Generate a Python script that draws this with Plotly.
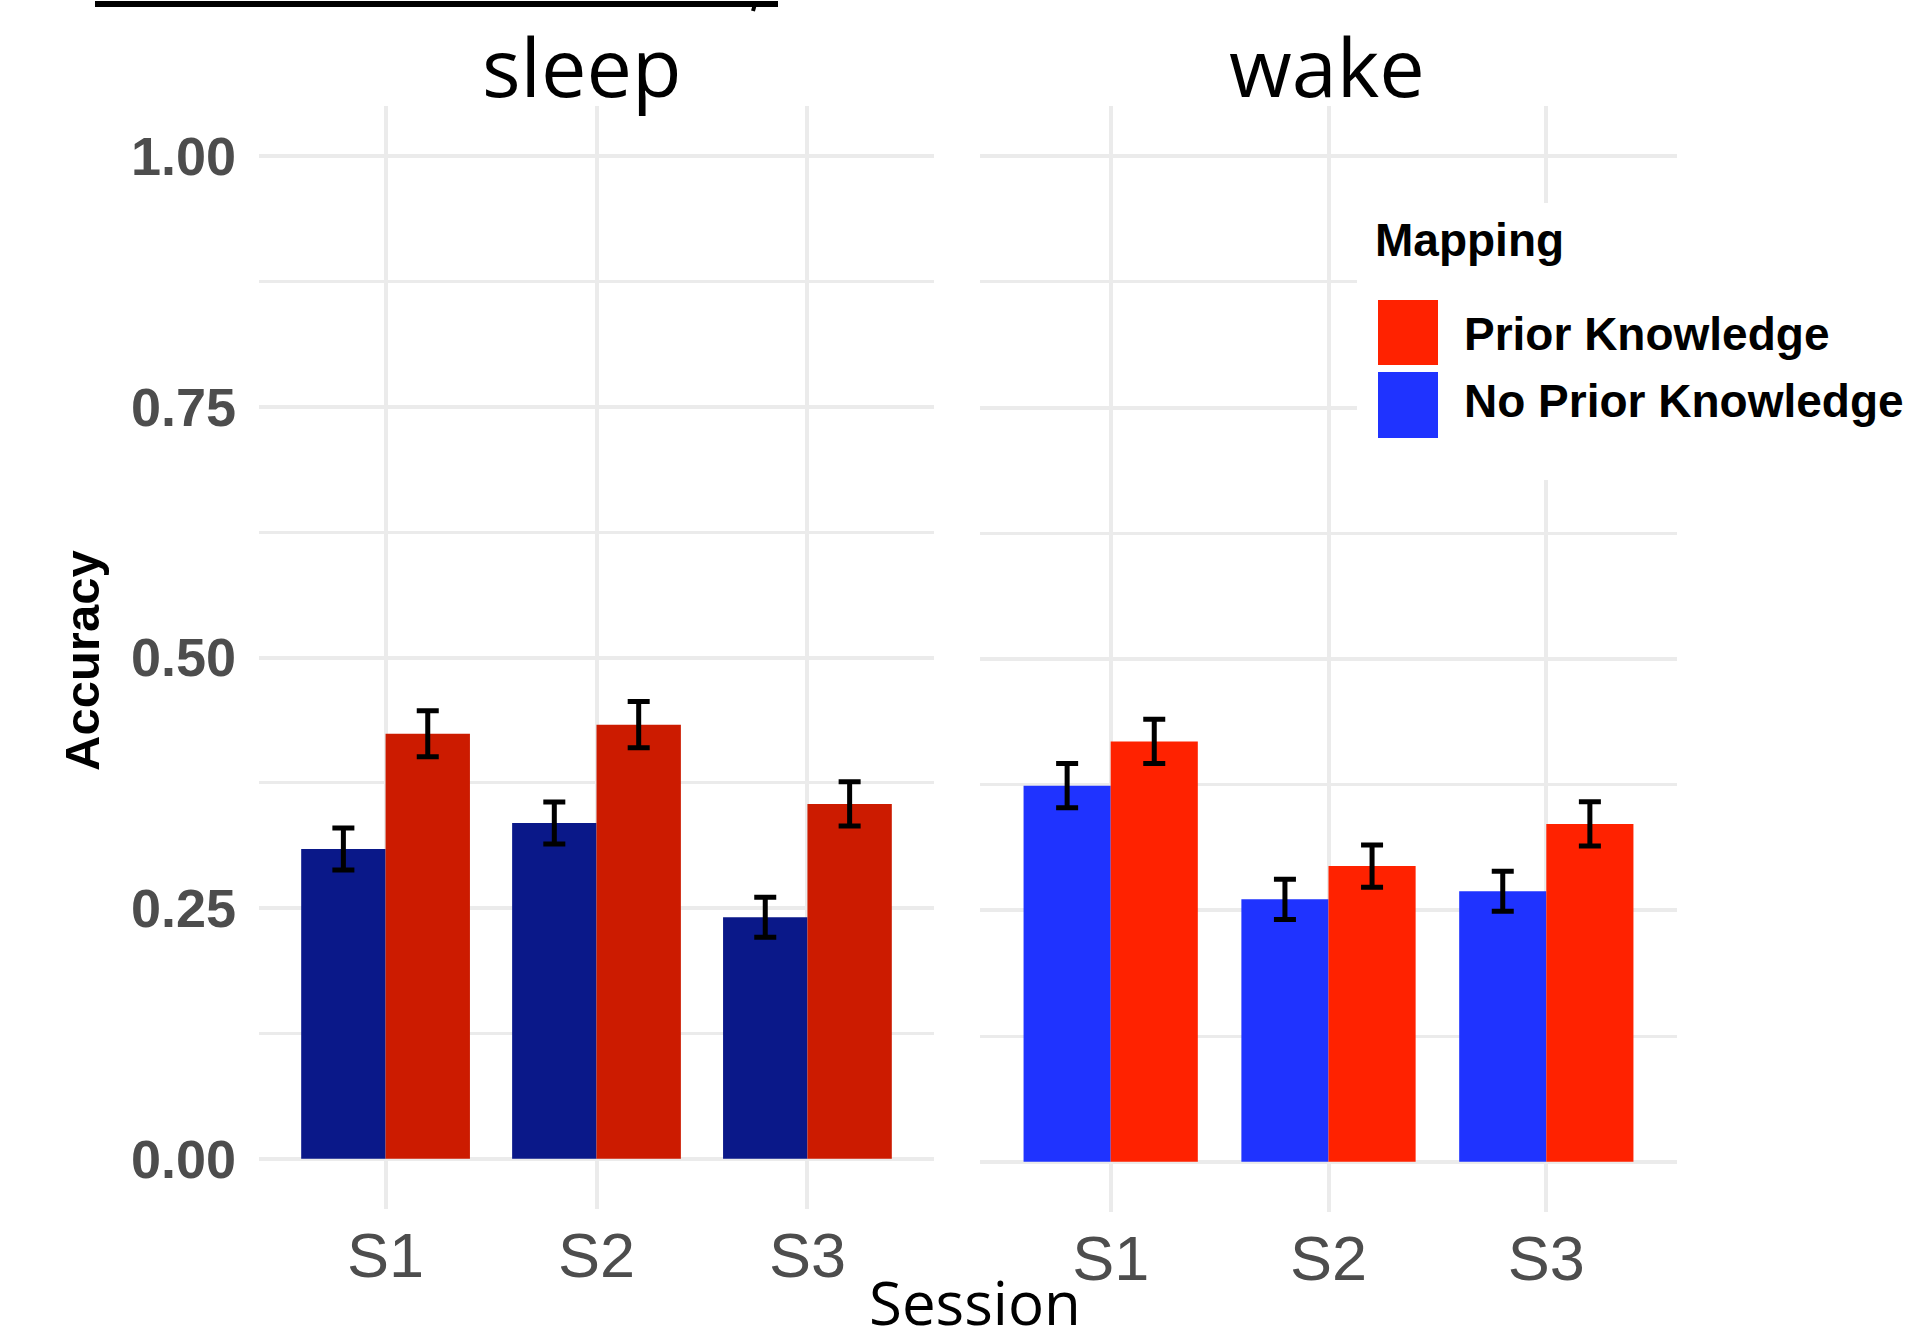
import plotly.graph_objects as go

# ---- data ----
sessions = ["S1", "S2", "S3"]
sleep_noprior = [0.309, 0.335, 0.241]
sleep_noprior_se = [0.021, 0.021, 0.020]
sleep_prior = [0.424, 0.433, 0.354]
sleep_prior_se = [0.023, 0.023, 0.022]
wake_noprior = [0.374, 0.261, 0.269]
wake_noprior_se = [0.022, 0.020, 0.020]
wake_prior = [0.418, 0.294, 0.336]
wake_prior_se = [0.022, 0.021, 0.022]
y_ticks = [0, 0.25, 0.5, 0.75, 1.0]
y_ticklabels = ["0.00", "0.25", "0.50", "0.75", "1.00"]
legend_title = "Mapping"
legend_labels = ["Prior Knowledge", "No Prior Knowledge"]

W, H = 1908, 1334
OFF = 0  # body margin removed via post_script
def px(x):
    return (x - OFF) / W
def py(y):
    return 1 - (y - OFF) / H

SLEEP_BLUE = "#0A1889"
SLEEP_RED = "#CC1B00"
WAKE_BLUE = "#1F33FF"
WAKE_RED = "#FF2200"

err = dict(type="data", visible=True, color="black", thickness=5, width=11)

fig = go.Figure()
fig.add_trace(go.Bar(x=sessions, y=sleep_noprior, marker_color=SLEEP_BLUE, marker_line_width=0,
                     error_y=dict(array=sleep_noprior_se, **err), xaxis="x", yaxis="y",
                     showlegend=False, name=legend_labels[1]))
fig.add_trace(go.Bar(x=sessions, y=sleep_prior, marker_color=SLEEP_RED, marker_line_width=0,
                     error_y=dict(array=sleep_prior_se, **err), xaxis="x", yaxis="y",
                     showlegend=False, name=legend_labels[0]))
fig.add_trace(go.Bar(x=sessions, y=wake_noprior, marker_color=WAKE_BLUE, marker_line_width=0,
                     error_y=dict(array=wake_noprior_se, **err), xaxis="x2", yaxis="y2",
                     showlegend=False, name=legend_labels[1]))
fig.add_trace(go.Bar(x=sessions, y=wake_prior, marker_color=WAKE_RED, marker_line_width=0,
                     error_y=dict(array=wake_prior_se, **err), xaxis="x2", yaxis="y2",
                     showlegend=False, name=legend_labels[0]))

grid = "#EBEBEB"
xcommon = dict(type="category", range=[-0.6, 2.6], showgrid=True, gridcolor=grid, gridwidth=4,
               zeroline=False, showline=False, ticks="",
               tickfont=dict(family="Liberation Sans, Arial, sans-serif", size=63, color="#4D4D4D"),
               ticklabelstandoff=4, fixedrange=True)
ycommon = dict(range=[-0.05, 1.05], tickvals=y_ticks, ticktext=y_ticklabels, showgrid=True,
               gridcolor=grid, gridwidth=4, zeroline=False, showline=False, ticks="",
               minor=dict(dtick=0.125, tick0=0, showgrid=True, gridcolor=grid, gridwidth=3),
               tickfont=dict(family="Liberation Sans, Arial, sans-serif", size=54, color="#4D4D4D",
                             weight="bold"),
               ticklabelstandoff=22, fixedrange=True)

fig.update_layout(
    width=W, height=H,
    margin=dict(l=0, r=0, t=0, b=0),
    paper_bgcolor="white", plot_bgcolor="white",
    barmode="group", bargap=0.2, bargroupgap=0,
    showlegend=False,
    xaxis=dict(domain=[px(259), px(934)], anchor="y", **xcommon),
    yaxis=dict(domain=[py(1209), py(106)], anchor="x", showticklabels=True, **ycommon),
    xaxis2=dict(domain=[px(980), px(1677)], anchor="y2", **xcommon),
    yaxis2=dict(domain=[py(1212), py(106)], anchor="x2", showticklabels=False, **ycommon),
)

shapes = []
# top decorative line (underline of cropped text above)
shapes.append(dict(type="line", xref="paper", yref="paper", x0=px(95), x1=px(778),
                   y0=py(4), y1=py(4), line=dict(color="black", width=6)))
shapes.append(dict(type="line", xref="paper", yref="paper", x0=px(755), x1=px(753),
                   y0=py(4), y1=py(11), line=dict(color="black", width=4)))
# legend background
shapes.append(dict(type="rect", xref="paper", yref="paper", x0=px(1357), x1=1,
                   y0=py(480), y1=py(203), fillcolor="white", line=dict(width=0), layer="above"))
# legend keys
shapes.append(dict(type="rect", xref="paper", yref="paper", x0=px(1378), x1=px(1438),
                   y0=py(365), y1=py(300), fillcolor=WAKE_RED, line=dict(width=0), layer="above"))
shapes.append(dict(type="rect", xref="paper", yref="paper", x0=px(1378), x1=px(1438),
                   y0=py(438), y1=py(372), fillcolor=WAKE_BLUE, line=dict(width=0), layer="above"))
fig.update_layout(shapes=shapes)

bold = dict(family="Liberation Sans, Arial, sans-serif", size=46, color="black", weight="bold")
ann = []
ann.append(dict(text=legend_title, x=px(1373), y=py(240), xref="paper", yref="paper",
                xanchor="left", yanchor="middle", showarrow=False, font=bold))
ann.append(dict(text=legend_labels[0], x=px(1462), y=py(334), xref="paper", yref="paper",
                xanchor="left", yanchor="middle", showarrow=False, font=bold))
ann.append(dict(text=legend_labels[1], x=px(1462), y=py(401), xref="paper", yref="paper",
                xanchor="left", yanchor="middle", showarrow=False, font=bold))
# facet labels
facet_font = dict(family="Open Sans, sans-serif", size=81, color="black")
ann.append(dict(text="sleep", x=px(582), y=py(65), xref="paper", yref="paper",
                xanchor="center", yanchor="middle", showarrow=False, font=facet_font))
ann.append(dict(text="wake", x=px(1327), y=py(65), xref="paper", yref="paper",
                xanchor="center", yanchor="middle", showarrow=False, font=facet_font))
# axis titles
ann.append(dict(text="Session", x=px(975), y=py(1302), xref="paper", yref="paper",
                xanchor="center", yanchor="middle", showarrow=False,
                font=dict(family="Open Sans, sans-serif", size=60, color="black")))
ann.append(dict(text="Accuracy", x=px(82), y=py(661), xref="paper", yref="paper",
                xanchor="center", yanchor="middle", showarrow=False, textangle=-90,
                font=dict(family="Liberation Sans, Arial, sans-serif", size=49, color="black",
                          weight="bold")))
fig.update_layout(annotations=ann)

fig.write_html("out.html", config={"displayModeBar": False},
               post_script="document.body.style.margin='0px';")
